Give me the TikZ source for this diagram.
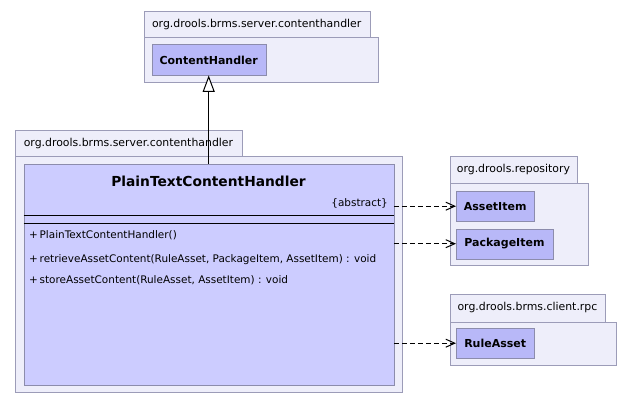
\documentclass[tikz,border=0pt]{standalone}
\usepackage{fontspec}
\setmainfont{DejaVu Sans}
\usetikzlibrary{arrows.meta}

\definecolor{pkgfill}{HTML}{EEEEFA}
\definecolor{pkgline}{HTML}{9C9CB8}
\definecolor{clsfill}{HTML}{CCCCFF}
\definecolor{reffill}{HTML}{B8B8F8}
\definecolor{clsline}{HTML}{8C8CAC}

\begin{document}
\begin{tikzpicture}[x=1pt, y=-1pt]
    \tikzstyle{pkg tab}=[
        draw = pkgline,
        fill = pkgfill,
        anchor = north west,
        inner sep = 0pt,
        font = \fontsize{10.9}{12}\selectfont
    ]
    \tikzstyle{pkg body}=[
        draw = pkgline,
        fill = pkgfill,
        anchor = north west,
        inner sep = 0pt
    ]
    \tikzstyle{ref class}=[
        draw = clsline,
        fill = reffill,
        anchor = north west,
        inner sep = 0pt,
        font = \fontsize{11}{13}\selectfont\bfseries
    ]
    \tikzstyle{main class}=[
        draw = clsline,
        fill = clsfill,
        anchor = north west,
        inner sep = 0pt
    ]
    \tikzstyle{member}=[
        anchor = west,
        inner sep = 0pt,
        font = \fontsize{10.45}{12}\selectfont
    ]
    \tikzstyle{depend}=[
        line width = 1pt,
        dash pattern = on 5pt off 3pt,
        -{Straight Barb[length=9pt, width=8pt]}
    ]

    \useasboundingbox (0,0) rectangle (632,404);

    % packages
    \node[pkg tab, minimum width=226pt, minimum height=26pt] (chtab) at (143.5,11.5) {org.drools.brms.server.contenthandler};
    \node[pkg body, minimum width=234.5pt, minimum height=45.5pt] (chpkg) at (143.5,37) {};
    \node[pkg tab, minimum width=226.5pt, minimum height=26pt] (ptab) at (15,130) {org.drools.brms.server.contenthandler};
    \node[pkg body, minimum width=386.5pt, minimum height=235.5pt] (ppkg) at (15,156) {};
    \node[pkg tab, minimum width=127.5pt, minimum height=27pt] (reptab) at (449.5,156) {org.drools.repository};
    \node[pkg body, minimum width=138pt, minimum height=82pt] (reppkg) at (449.5,183) {};
    \node[pkg tab, minimum width=155.5pt, minimum height=27.5pt] (rpctab) at (449.5,294) {org.drools.brms.client.rpc};
    \node[pkg body, minimum width=166pt, minimum height=43.5pt] (rpcpkg) at (449.5,321.5) {};

    % classes
    \node[ref class, minimum width=114pt, minimum height=30.5pt] (ch) at (151.5,44.5) {ContentHandler};
    \node[ref class, minimum width=78pt, minimum height=30pt] (asset) at (456,191) {AssetItem};
    \node[ref class, minimum width=96.5pt, minimum height=30pt] (package) at (456,228.5) {PackageItem};
    \node[ref class, minimum width=78pt, minimum height=30pt] (rule) at (456,328) {RuleAsset};
    \node[main class, minimum width=370pt, minimum height=221pt] (ptch) at (23.5,163.5) {};

    \node[font=\fontsize{13.8}{16}\selectfont\bfseries] (title) at (208.5,181.5) {PlainTextContentHandler};
    \node[member, anchor=east] (abstr) at (388,203.5) {\{abstract\}};
    \draw[line width=1pt] (ptch.west |- 0,215.7) -- (ptch.east |- 0,215.7);
    \draw[line width=1pt] (ptch.west |- 0,223.3) -- (ptch.east |- 0,223.3);
    \node[member] (ctor) at (29,235) {+\,PlainTextContentHandler()};
    \node[member] (retrieve) at (29,260) {+\,retrieveAssetContent(RuleAsset, PackageItem, AssetItem) : void};
    \node[member] (store) at (29,280.5) {+\,storeAssetContent(RuleAsset, AssetItem) : void};

    % relations
    \draw[line width=1pt, -{Triangle[length=16.5pt, width=12pt, fill=white, line width=1pt]}] (ch.south |- ptch.north) -- (ch.south);
    \draw[depend] (ptch.east |- asset.west) -- (asset.west);
    \draw[depend] (ptch.east |- package.west) -- (package.west);
    \draw[depend] (ptch.east |- rule.west) -- (rule.west);
\end{tikzpicture}
\end{document}
